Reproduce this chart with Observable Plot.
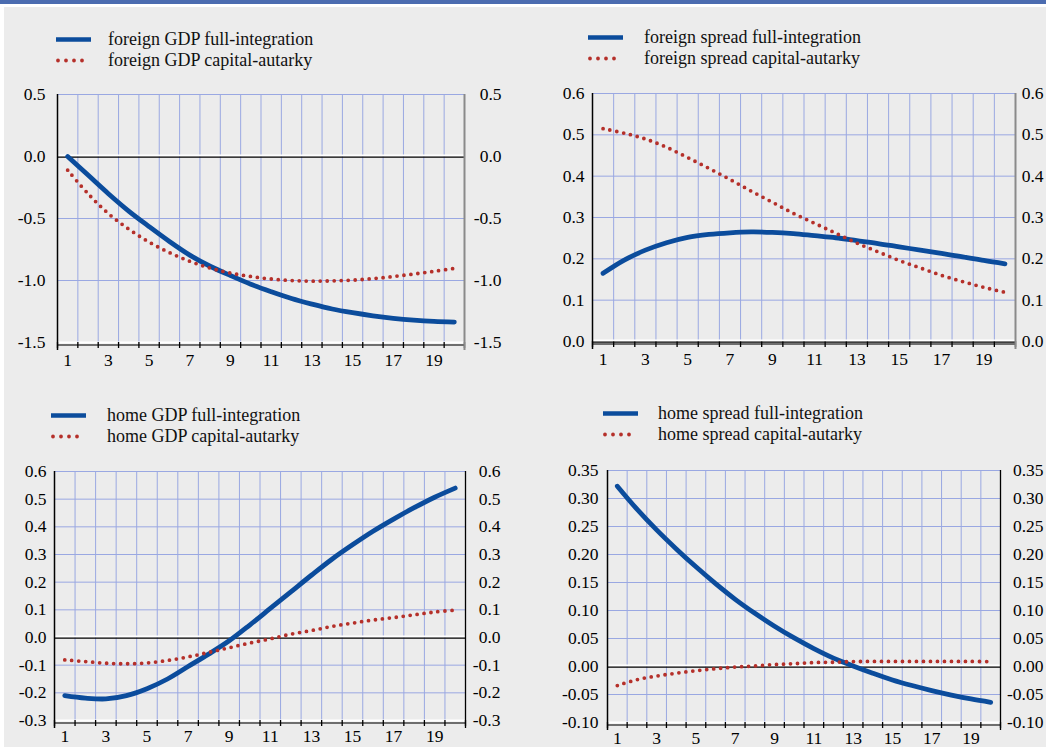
<!DOCTYPE html>
<html>
<head>
<meta charset="utf-8">
<script src="https://cdn.jsdelivr.net/npm/d3@7"></script>
<script src="https://cdn.jsdelivr.net/npm/@observablehq/plot@0.6"></script>
<style>
  html, body { margin: 0; padding: 0; background: #fff; }
  #page { position: relative; width: 1046px; height: 747px; overflow: hidden; background: #fff;
          font-family: "Liberation Serif", "Times New Roman", serif; }
  #bar { position: absolute; left: 0; top: 0; width: 1046px; height: 4px; background: #4b6cb0; }
  #bg { position: absolute; left: 4px; top: 7px; right: 0; bottom: 0; background: #ececec; }
  .panel { position: absolute; }
  .panel svg { overflow: visible; }
  .panel svg text { font-family: "Liberation Serif", "Times New Roman", serif; }
  .legend { position: absolute; font-size: 18px; color: #111; }
  .legend .row { display: flex; align-items: center; height: 21px; white-space: nowrap; }
  .legend svg { display: block; flex: none; }
</style>
</head>
<body>
<div id="page">
  <div id="bar"></div>
  <div id="bg"></div>
</div>
<script>
// Quarters after the shock
const periods = [1, 2, 3, 4, 5, 6, 7, 8, 9, 10, 11, 12, 13, 14, 15, 16, 17, 18, 19, 20];
const xTickLabels = [1, 3, 5, 7, 9, 11, 13, 15, 17, 19];

// Foreign GDP response
const foreignGdpFull = [0.00, -0.15, -0.30, -0.44, -0.565, -0.685, -0.795, -0.885, -0.96, -1.03,
  -1.09, -1.145, -1.19, -1.23, -1.26, -1.285, -1.305, -1.32, -1.33, -1.335];
const foreignGdpAutarky = [-0.11, -0.30, -0.46, -0.585, -0.69, -0.775, -0.845, -0.90, -0.94, -0.968,
  -0.988, -1.0, -1.005, -1.003, -0.997, -0.985, -0.968, -0.948, -0.926, -0.903];
const foreignGdpTicks = [-1.5, -1.0, -0.5, 0.0, 0.5];

// Foreign spread response
const foreignSpreadFull = [0.165, 0.197, 0.221, 0.239, 0.252, 0.259, 0.263, 0.265, 0.264, 0.261,
  0.256, 0.251, 0.244, 0.237, 0.229, 0.221, 0.213, 0.205, 0.196, 0.188];
const foreignSpreadAutarky = [0.515, 0.504, 0.490, 0.470, 0.445, 0.419, 0.392, 0.364, 0.337, 0.310,
  0.286, 0.262, 0.238, 0.217, 0.196, 0.178, 0.160, 0.145, 0.131, 0.119];
const foreignSpreadTicks = [0.0, 0.1, 0.2, 0.3, 0.4, 0.5, 0.6];

// Home GDP response
const homeGdpFull = [-0.21, -0.219, -0.222, -0.21, -0.185, -0.15, -0.105, -0.06, -0.012, 0.045,
  0.105, 0.165, 0.225, 0.283, 0.335, 0.384, 0.428, 0.469, 0.507, 0.54];
const homeGdpAutarky = [-0.081, -0.087, -0.093, -0.095, -0.092, -0.083, -0.070, -0.054, -0.037, -0.020,
  -0.005, 0.012, 0.025, 0.040, 0.052, 0.063, 0.072, 0.082, 0.092, 0.099];
const homeGdpTicks = [-0.3, -0.2, -0.1, 0.0, 0.1, 0.2, 0.3, 0.4, 0.5, 0.6];

// Home spread response
const homeSpreadFull = [0.322, 0.281, 0.244, 0.210, 0.178, 0.148, 0.120, 0.095, 0.072, 0.051,
  0.032, 0.015, 0.001, -0.012, -0.024, -0.034, -0.043, -0.051, -0.058, -0.064];
const homeSpreadAutarky = [-0.034, -0.0235, -0.017, -0.012, -0.0076, -0.004, -0.001, 0.001, 0.0035, 0.005,
  0.007, 0.0076, 0.0088, 0.009, 0.009, 0.009, 0.009, 0.009, 0.009, 0.0088];
const homeSpreadTicks = [-0.10, -0.05, 0.00, 0.05, 0.10, 0.15, 0.20, 0.25, 0.30, 0.35];

const BLUE = "#0b4c9c";
const RED = "#b5302a";
const GRID = "#9aa8e2";
const FONT = "Liberation Serif, Times New Roman, serif";
const FONT_SIZE = 17.5;

const panels = [
  { left: 0, top: 80, width: 520, height: 300, m: [14, 56, 38, 57],
    full: foreignGdpFull, autarky: foreignGdpAutarky, ticks: foreignGdpTicks, digits: 1,
    padL: 12, rightDx: 37, rightLine: "#8a8a8a", labelPad: 12,
    names: ["foreign GDP full-integration", "foreign GDP capital-autarky"],
    legend: { left: 56, top: 28.5, gap: 16 } },
  { left: 520, top: 80, width: 526, height: 300, m: [13, 31, 39, 72],
    full: foreignSpreadFull, autarky: foreignSpreadAutarky, ticks: foreignSpreadTicks, digits: 1,
    padL: 8, rightDx: 28, rightLine: "#8a8a8a", labelPad: 12,
    names: ["foreign spread full-integration", "foreign spread capital-autarky"],
    legend: { left: 588, top: 26.5, gap: 20 } },
  { left: 0, top: 455, width: 520, height: 292, m: [16, 55, 27, 54],
    full: homeGdpFull, autarky: homeGdpAutarky, ticks: homeGdpTicks, digits: 1,
    padL: 8, rightDx: 35, rightLine: "#000", labelPad: 10,
    names: ["home GDP full-integration", "home GDP capital-autarky"],
    legend: { left: 51, top: 404.5, gap: 20 } },
  { left: 520, top: 455, width: 526, height: 292, m: [15, 46, 25, 87],
    full: homeSpreadFull, autarky: homeSpreadAutarky, ticks: homeSpreadTicks, digits: 2,
    padL: 9, rightDx: 43, rightLine: "#000", labelPad: 10,
    names: ["home spread full-integration", "home spread capital-autarky"],
    legend: { left: 603, top: 402.5, gap: 19 } }
];

const page = document.getElementById("page");

function swatch(kind) {
  const ns = "http://www.w3.org/2000/svg";
  const svg = document.createElementNS(ns, "svg");
  svg.setAttribute("width", 36);
  svg.setAttribute("height", 21);
  const line = document.createElementNS(ns, "line");
  line.setAttribute("y1", 10.5);
  line.setAttribute("y2", 10.5);
  if (kind === "full") {
    line.setAttribute("x1", 0); line.setAttribute("x2", 35);
    line.setAttribute("stroke", BLUE); line.setAttribute("stroke-width", 4.5);
  } else {
    line.setAttribute("x1", 2); line.setAttribute("x2", 34);
    line.setAttribute("stroke", RED); line.setAttribute("stroke-width", 3.8);
    line.setAttribute("stroke-linecap", "round");
    line.setAttribute("stroke-dasharray", "0 8");
  }
  svg.appendChild(line);
  return svg;
}

for (const cfg of panels) {
  const bounds = periods.map(p => p - 0.5).concat([periods[periods.length - 1] + 0.5]);
  const xDomain = [bounds[0], bounds[bounds.length - 1]];
  const yDomain = d3.extent(cfg.ticks);
  const fmt = d => d.toFixed(cfg.digits);
  const rows = periods.map((p, i) => ({ p, full: cfg.full[i], aut: cfg.autarky[i] }));
  const textStyle = { fontSize: FONT_SIZE, fontFamily: FONT, fill: "#000" };

  const chart = Plot.plot({
    width: cfg.width,
    height: cfg.height,
    marginTop: cfg.m[0],
    marginRight: cfg.m[1],
    marginBottom: cfg.m[2],
    marginLeft: cfg.m[3],
    x: { domain: xDomain, label: null, axis: null },
    y: { domain: yDomain, label: null, axis: null },
    style: { background: "transparent", fontFamily: FONT, fontSize: FONT_SIZE + "px",
             color: "#000", overflow: "visible" },
    marks: [
      // grid
      Plot.ruleX(bounds.slice(1, -1), { stroke: GRID, strokeWidth: 1 }),
      Plot.ruleY(cfg.ticks.filter(t => t !== 0 && t !== yDomain[0]), { stroke: GRID, strokeWidth: 1 }),
      // bottom edge and period ticks
      Plot.ruleY([yDomain[0]], { stroke: "#fff", strokeWidth: 2 }),
      Plot.ruleY([yDomain[0]], { stroke: "#6e6e6e", strokeWidth: 2, dy: 2.5 }),
      Plot.axisX({ ticks: bounds, tickSize: 6, tickFormat: () => "", label: null, stroke: "#000", strokeWidth: 1.3 }),
      Plot.text(xTickLabels, { x: d => d, y: yDomain[0], text: d => String(d), dy: cfg.labelPad + 6,
                               lineAnchor: "middle", ...textStyle }),
      // value labels on both sides
      Plot.text(cfg.ticks, { x: xDomain[0], y: d => d, text: fmt, textAnchor: "end", dx: -cfg.padL, ...textStyle }),
      Plot.text(cfg.ticks, { x: xDomain[1], y: d => d, text: fmt, textAnchor: "end", dx: cfg.rightDx, ...textStyle }),
      // zero line
      Plot.ruleY([0], { stroke: "#fff", strokeWidth: 2, dy: -1 }),
      Plot.ruleY([0], { stroke: "#000", strokeWidth: 1.2, dy: 0.6 }),
      // side axis lines
      Plot.ruleX([xDomain[0]], { stroke: "#000", strokeWidth: 1.5, insetBottom: -8 }),
      Plot.ruleX([xDomain[1]], { stroke: cfg.rightLine, strokeWidth: cfg.rightLine === "#000" ? 1.3 : 2, insetBottom: -8 }),
      // responses
      Plot.line(rows, { x: "p", y: "full", stroke: BLUE, strokeWidth: 4.8, curve: "catmull-rom" }),
      Plot.line(rows, { x: "p", y: "aut", stroke: RED, strokeWidth: 3.8, strokeDasharray: "0 7",
                        strokeLinecap: "round", curve: "catmull-rom" })
    ]
  });

  const holder = document.createElement("div");
  holder.className = "panel";
  holder.style.left = cfg.left + "px";
  holder.style.top = cfg.top + "px";
  holder.appendChild(chart);
  page.appendChild(holder);

  const legend = document.createElement("div");
  legend.className = "legend";
  legend.style.left = cfg.legend.left + "px";
  legend.style.top = cfg.legend.top + "px";
  ["full", "autarky"].forEach((kind, i) => {
    const row = document.createElement("div");
    row.className = "row";
    row.appendChild(swatch(kind));
    const label = document.createElement("span");
    label.style.marginLeft = cfg.legend.gap + "px";
    label.textContent = cfg.names[i];
    row.appendChild(label);
    legend.appendChild(row);
  });
  page.appendChild(legend);
}
</script>
</body>
</html>
